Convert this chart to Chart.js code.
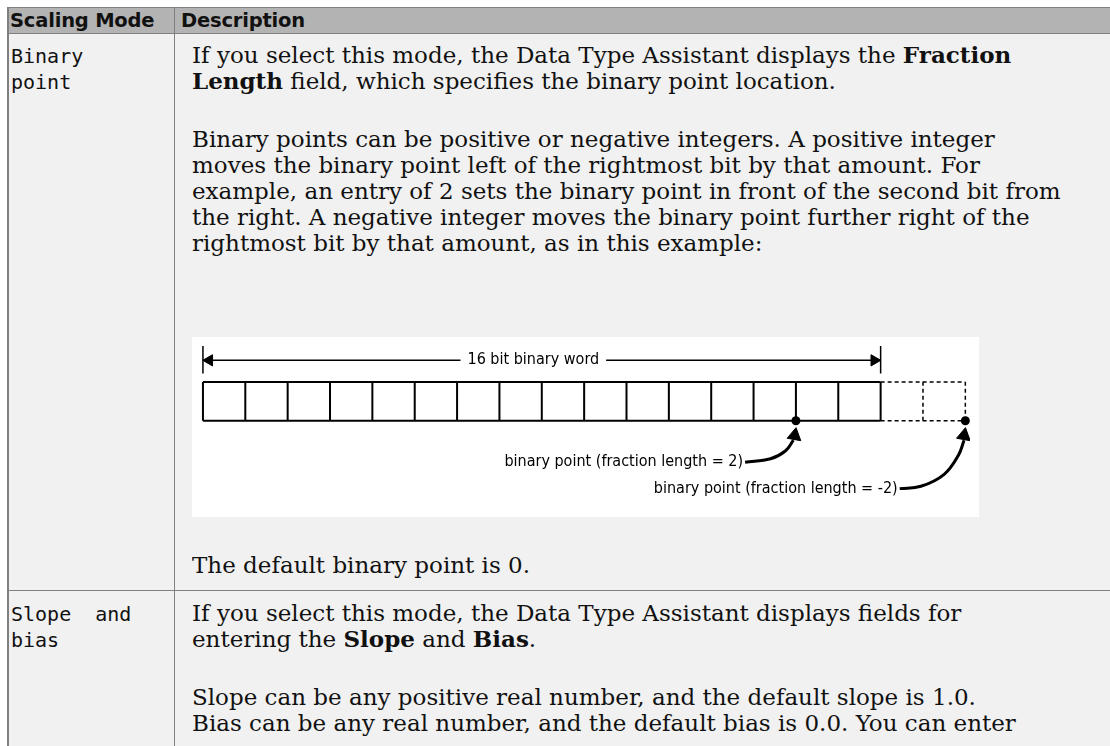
<!DOCTYPE html>
<html>
<head>
<meta charset="utf-8">
<script src="https://cdn.jsdelivr.net/npm/chart.js@4.4.1/dist/chart.umd.min.js"></script>
<style>
  html, body { margin: 0; padding: 0; background: #fff; width: 1110px; height: 746px; overflow: hidden; }
  .tbl { position: absolute; left: 7px; top: 7px; width: 1120px; height: 760px; background: #f1f1f1; border-left: 2px solid #808080; }
  .hdr { position: absolute; left: 0; top: 0; width: 100%; height: 25px; background: #b3b3b3; border-top: 1px solid #808080; border-bottom: 1px solid #808080; }
  .hdr span { position: absolute; top: 0; line-height: 25px; font-family: "DejaVu Sans", sans-serif; font-weight: 700; font-size: 19.5px; color: #111; letter-spacing: -0.2px; }
  .vline { position: absolute; left: 165px; top: 0; width: 1px; height: 100%; background: #808080; }
  .hline { position: absolute; left: 0; width: 100%; height: 1px; background: #808080; }
  .mono { position: absolute; left: 2px; font-family: "DejaVu Sans Mono", monospace; font-size: 20px; line-height: 26px; white-space: pre; color: #111; }
  .desc { position: absolute; left: 183px; font-family: "DejaVu Serif", serif; font-size: 21.5px; line-height: 26px; white-space: nowrap; color: #111;
          transform: scaleX(1.07); transform-origin: 0 0; }
  .desc b { font-weight: 700; }
  #diagram { position: absolute; left: 183px; top: 330px; width: 787px; height: 180px; background: #fff; }
</style>
</head>
<body>
<div class="tbl">
  <div class="hdr">
    <span style="left:1px">Scaling Mode</span>
    <span style="left:172px">Description</span>
  </div>
  <div class="vline"></div>
  <div class="hline" style="top:583px"></div>

  <div class="mono" style="top:36px">Binary
point</div>
  <div class="desc" style="top:36px">If you select this mode, the Data Type Assistant displays the <b>Fraction</b><br><b>Length</b> field, which specifies the binary point location.</div>
  <div class="desc" style="top:120px">Binary points can be positive or negative integers. A positive integer<br>moves the binary point left of the rightmost bit by that amount. For<br>example, an entry of 2 sets the binary point in front of the second bit from<br>the right. A negative integer moves the binary point further right of the<br>rightmost bit by that amount, as in this example:</div>
  <div id="diagram"><canvas id="bits" width="787" height="180"></canvas></div>
  <div class="desc" style="top:546px">The default binary point is 0.</div>

  <div class="mono" style="top:594px">Slope  and
bias</div>
  <div class="desc" style="top:594px">If you select this mode, the Data Type Assistant displays fields for<br>entering the <b>Slope</b> and <b>Bias</b>.</div>
  <div class="desc" style="top:678px">Slope can be any positive real number, and the default slope is 1.0.<br>Bias can be any real number, and the default bias is 0.0. You can enter</div>
</div>

<script>
// 16 bit word diagram — cells, binary points and callouts drawn on linear x/y scales (1 unit = 1 bit)

const wordBits = [0, 1, 2, 3, 4, 5, 6, 7, 8, 9, 10, 11, 12, 13, 14, 15, 16];
const extraBits = [16, 17, 18];
const wordSpan = [0, 16];
const wordLabel = '16 bit binary word';
const pointPositions = [14, 18];
const pointLabels = ['binary point (fraction length = 2)', 'binary point (fraction length = -2)'];

const INK = '#000';
const LABEL_FONT = '16px "DejaVu Sans Condensed", "Liberation Sans Narrow", sans-serif';

// callout geometry, relative to the binary point it points at
const CALLOUTS = [
  { labelDx: -1.2, labelY: -1.07, path: [[-1.2, -1.07], [-0.6, -0.98], [-0.25, -0.78], [-0.06, -0.5]] },
  { labelDx: -1.55, labelY: -1.75, path: [[-1.55, -1.75], [-1.05, -1.69], [-0.5, -1.38], [-0.16, -0.88], [-0.03, -0.5]] },
];
const ARROW_Y = 1.56;
const TICK_BOTTOM = 1.22;

// cell outline as one broken polyline: top edge, bottom edge, then each vertical
function cellPath(edges, withFirst) {
  const first = edges[0], last = edges[edges.length - 1];
  const pts = [{ x: first, y: 1 }, { x: last, y: 1 }, { x: last, y: null },
               { x: first, y: 0 }, { x: last, y: 0 }, { x: last, y: null }];
  edges.forEach((e, i) => {
    if (i === 0 && !withFirst) return;
    pts.push({ x: e, y: 0 }, { x: e, y: 1 }, { x: e, y: null });
  });
  return pts;
}

const lineDefaults = { showLine: true, pointRadius: 0, borderColor: INK, spanGaps: false, fill: false };

const datasets = [
  { ...lineDefaults, data: cellPath(wordBits, true), borderWidth: 2 },
  { ...lineDefaults, data: cellPath(extraBits, false), borderWidth: 1.5, borderDash: [4, 3] },
  // word extent arrow + end ticks
  { ...lineDefaults, data: [{ x: wordSpan[0], y: ARROW_Y }, { x: wordSpan[1], y: ARROW_Y }], borderWidth: 1.5 },
  { ...lineDefaults, data: [{ x: wordSpan[0], y: 1.93 }, { x: wordSpan[0], y: TICK_BOTTOM }, { x: wordSpan[0], y: null },
                            { x: wordSpan[1], y: 1.93 }, { x: wordSpan[1], y: TICK_BOTTOM }], borderWidth: 1.5 },
  { data: [{ x: wordSpan[0] + 0.15, y: ARROW_Y }], pointStyle: 'triangle', rotation: 270, pointRadius: 6.5,
    backgroundColor: INK, borderColor: INK, borderWidth: 1 },
  { data: [{ x: wordSpan[1] - 0.15, y: ARROW_Y }], pointStyle: 'triangle', rotation: 90, pointRadius: 6.5,
    backgroundColor: INK, borderColor: INK, borderWidth: 1 },
  // binary points
  { data: pointPositions.map((p) => ({ x: p, y: 0 })), pointRadius: 4.5, backgroundColor: INK, borderColor: INK, borderWidth: 0 },
];

// curved callout arrows
pointPositions.forEach((p, i) => {
  const c = CALLOUTS[i];
  datasets.push({ ...lineDefaults, data: c.path.map(([dx, dy]) => ({ x: p + dx, y: dy })), borderWidth: 3, tension: 0.4 });
  datasets.push({ data: [{ x: p - 0.03, y: -0.38 }], pointStyle: 'triangle', rotation: 10, pointRadius: 8,
    backgroundColor: INK, borderColor: INK, borderWidth: 1 });
});

const labelPlugin = {
  id: 'bitLabels',
  afterDatasetsDraw(chart) {
    const { ctx, scales: { x, y } } = chart;
    ctx.save();
    ctx.font = LABEL_FONT;
    ctx.fillStyle = INK;
    ctx.textBaseline = 'middle';

    // word label sits in a gap of the extent arrow
    const cx = x.getPixelForValue((wordSpan[0] + wordSpan[1]) / 2 - 0.2);
    const cy = y.getPixelForValue(ARROW_Y);
    const w = ctx.measureText(wordLabel).width;
    ctx.fillStyle = '#fff';
    ctx.fillRect(cx - w / 2 - 7, cy - 4, w + 14, 8);
    ctx.fillStyle = INK;
    ctx.textAlign = 'center';
    ctx.fillText(wordLabel, cx, cy);

    ctx.textAlign = 'right';
    pointLabels.forEach((txt, i) => {
      const c = CALLOUTS[i];
      ctx.fillText(txt, x.getPixelForValue(pointPositions[i] + c.labelDx) - 2, y.getPixelForValue(c.labelY));
    });
    ctx.restore();
  },
};

new Chart(document.getElementById('bits'), {
  type: 'scatter',
  data: { datasets },
  options: {
    responsive: false,
    animation: false,
    events: [],
    layout: { padding: 0 },
    plugins: { legend: { display: false }, tooltip: { enabled: false } },
    scales: {
      x: { type: 'linear', min: -0.046, max: 18.11, display: false },
      y: { type: 'linear', min: -2.25, max: 1.93, display: false },
    },
  },
  plugins: [labelPlugin],
});
</script>
</body>
</html>
